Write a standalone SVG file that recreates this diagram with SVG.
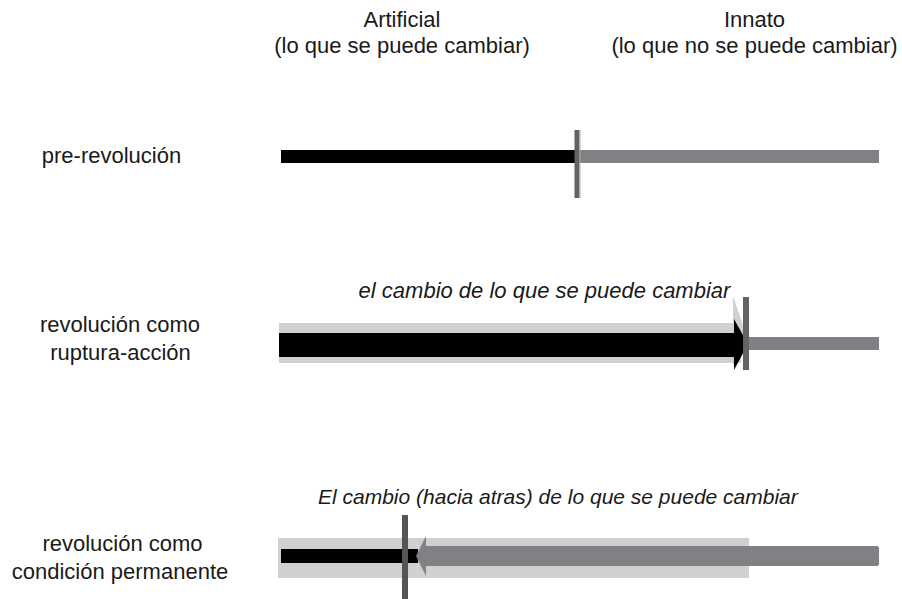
<svg xmlns="http://www.w3.org/2000/svg" width="902" height="599" viewBox="0 0 902 599">
<style>
text{font-family:"Liberation Sans",Arial,sans-serif;font-size:22px;fill:#1a1a1a}
.c{text-anchor:middle}
.i{font-style:italic}
.blk{fill:#000}
.gry{fill:#808184}
.lt{fill:#d0d0d0}
.vl{fill:#636363}
</style>
<rect width="902" height="599" fill="#fff"/>
<g id="headers">
<text class="c" x="402" y="27">Artificial</text>
<text class="c" x="402" y="53">(lo que se puede cambiar)</text>
<text class="c" x="754.5" y="27">Innato</text>
<text class="c" x="754.5" y="53">(lo que no se puede cambiar)</text>
</g>
<g id="row1">
<text class="c" x="111.5" y="163">pre-revolución</text>
<rect class="blk" x="281" y="150" width="296" height="13"/>
<rect class="gry" x="577" y="150" width="302" height="13"/>
<rect class="vl" x="574.5" y="130" width="5" height="68"/>
<rect x="579.5" y="130" width="1" height="68" fill="#b0b0b0"/>
</g>
<g id="row2">
<text class="c" x="120" y="332">revolución como</text>
<text class="c" x="120.5" y="360">ruptura-acción</text>
<text class="c i" x="544.5" y="298">el cambio de lo que se puede cambiar</text>
<rect class="lt" x="279" y="323" width="462" height="40"/>
<polygon class="lt" points="733,296 749,343 733,366"/>
<rect class="gry" x="748" y="337" width="131" height="13"/>
<polygon class="blk" points="279,333 734,333 734,319 748,344 734,370 734,357 279,357"/>
<rect class="vl" x="743" y="297" width="6" height="73"/>
</g>
<g id="row3">
<text class="c" x="122.5" y="551">revolución como</text>
<text class="c" x="120" y="579">condición permanente</text>
<text class="i" x="318" y="504" style="font-size:21px">El cambio (hacia atras) de lo que se puede cambiar</text>
<rect class="lt" x="278" y="538" width="471" height="40"/>
<rect class="blk" x="281" y="549" width="137" height="14"/>
<path class="gry" d="M416,556 L426,536 L426,546 L877,546 Q879,546 879,548 L879,564 Q879,566 877,566 L426,566 L426,576 Z"/>
<rect class="vl" x="402" y="515" width="6" height="84" style="fill:#555"/>
</g>
</svg>
